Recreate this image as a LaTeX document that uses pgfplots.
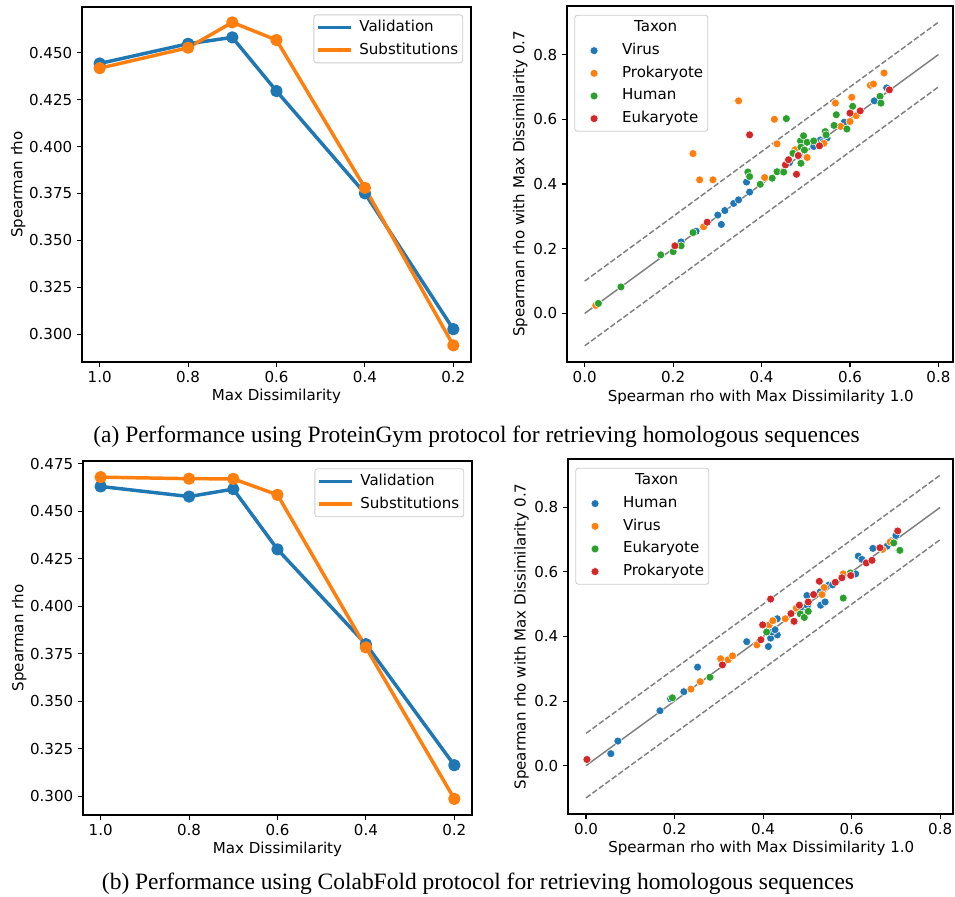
\documentclass[border=0pt]{standalone}
\usepackage{fontspec}
\setmainfont{DejaVu Sans}
\newfontfamily\capfont{Liberation Serif}
\usepackage{pgfplots}
\pgfplotsset{compat=1.18}

\definecolor{tabblue}{HTML}{1F77B4}
\definecolor{taborange}{HTML}{FF7F0E}
\definecolor{tabgreen}{HTML}{2CA02C}
\definecolor{tabred}{HTML}{D62728}
\definecolor{legframe}{HTML}{CCCCCC}

\pgfplotsset{
  base/.style={
    scale only axis,
    font=\fontsize{11.3}{13.5}\selectfont,
    tick label style={font=\fontsize{11.3}{13.5}\selectfont},
    label style={font=\fontsize{11.3}{13.5}\selectfont},
    /pgf/number format/assume math mode=true,
    axis line style={line width=0.8pt},
    tick style={line width=0.8pt, black},
    major tick length=3.8pt,
    tick align=outside,
    tick pos=left,
    legend cell align=left,
    legend style={font=\fontsize{11.3}{13.5}\selectfont, draw=legframe, rounded corners=2pt,
      line width=0.6pt, inner sep=1.5pt, row sep=1pt,
      nodes={inner sep=2pt, text height=9pt, text depth=3pt}},
  },
  lineplot/.style={
    base,
    x dir=reverse,
    xmin=0.16, xmax=1.04,
    xtick={1.0,0.8,0.6,0.4,0.2},
    xticklabel style={/pgf/number format/.cd, fixed, fixed zerofill, precision=1},
    yticklabel style={/pgf/number format/.cd, fixed, fixed zerofill, precision=3},
    ytick distance=0.025,
    xlabel={Max Dissimilarity},
    ylabel={Spearman rho},
    every axis x label/.style={at={(axis description cs:0.5,-0.098)}, anchor=center},
    every axis y label/.style={at={(axis description cs:-0.164,0.5)}, rotate=90, anchor=center},
    legend style={at={(0.98,0.979)}, anchor=north east},
    legend image code/.code={\draw[#1] (0pt,0pt) -- (25pt,0pt); \path (28pt,0pt);},
  },
  scatplot/.style={
    base,
    ymin=-0.15, ymax=0.95,
    xtick={0,0.2,0.4,0.6,0.8},
    ytick={0,0.2,0.4,0.6,0.8},
    xticklabel style={/pgf/number format/.cd, fixed, fixed zerofill, precision=1},
    yticklabel style={/pgf/number format/.cd, fixed, fixed zerofill, precision=1},
    xlabel={Spearman rho with Max Dissimilarity 1.0},
    ylabel={Spearman rho with Max Dissimilarity 0.7},
    every axis x label/.style={at={(axis description cs:0.502,-0.098)}, anchor=center},
    every axis y label/.style={at={(axis description cs:-0.121,0.5)}, rotate=90, anchor=center},
    legend style={at={(0.019,0.975)}, anchor=north west},
    legend image code/.code={\path[draw=none] (0pt,0pt) (32pt,0pt);
      \draw[#1, draw=none] plot coordinates {(13pt,0pt)};},
  },
  val/.style={tabblue, line width=2.6pt, line join=round, mark=*, mark size=3.3pt, mark options={solid, fill=tabblue}},
  sub/.style={taborange, line width=2.6pt, line join=round, mark=*, mark size=3.3pt, mark options={solid, fill=taborange}},
  pts/.style={only marks, mark=*, mark size=3pt, mark options={draw=white, line width=0.4pt, fill=#1}},
  diag/.style={gray, line width=1.1pt, forget plot},
  band/.style={gray, line width=1.1pt, dash pattern=on 4.2pt off 1.8pt, forget plot},
}

\begin{document}
\begin{tikzpicture}
\useasboundingbox (0pt,0pt) rectangle (716.25pt,-672pt);

% (a) ProteinGym protocol
\begin{axis}[lineplot, at={(61.5pt,-271.5pt)}, anchor=south west,
  width=291.75pt, height=266.25pt, ymin=0.2852, ymax=0.4744]
\addplot[val] coordinates {(1.0,0.4443) (0.8,0.4548) (0.7,0.4582) (0.6,0.4296) (0.4,0.3751) (0.2,0.3027)};
\addplot[sub] coordinates {(1.0,0.4418) (0.8,0.4527) (0.7,0.4662) (0.6,0.4568) (0.4,0.3780) (0.2,0.2941)};
\legend{Validation, Substitutions}
\end{axis}

\begin{axis}[scatplot, at={(425.25pt,-271.5pt)}, anchor=south west,
  width=289.5pt, height=267pt, xmin=-0.04, xmax=0.833]
\addplot[diag] coordinates {(0,0) (0.8,0.8)};
\addplot[band] coordinates {(0,0.1) (0.8,0.9)};
\addplot[band] coordinates {(0,-0.1) (0.8,0.7)};
\addlegendimage{empty legend}
% Virus
\addplot[pts=tabblue] coordinates {
(0.218,0.221) (0.252,0.254) (0.309,0.275) (0.301,0.304) (0.317,0.318) (0.337,0.340)
(0.348,0.351) (0.366,0.406) (0.373,0.375) (0.463,0.466) (0.484,0.485) (0.518,0.516)
(0.533,0.536) (0.539,0.531) (0.548,0.542) (0.587,0.591) (0.655,0.657) (0.683,0.697)};
% Prokaryote
\addplot[pts=taborange] coordinates {
(0.025,0.025) (0.269,0.268) (0.245,0.494) (0.260,0.413) (0.290,0.413) (0.348,0.657)
(0.407,0.420) (0.429,0.600) (0.435,0.524) (0.476,0.506) (0.503,0.482) (0.541,0.526)
(0.567,0.650) (0.579,0.578) (0.600,0.593) (0.604,0.668) (0.614,0.611) (0.646,0.705)
(0.653,0.709) (0.677,0.743)};
% Human
\addplot[pts=tabgreen] coordinates {
(0.031,0.031) (0.082,0.082) (0.172,0.181) (0.200,0.191) (0.218,0.209) (0.245,0.250)
(0.369,0.437) (0.373,0.423) (0.397,0.399) (0.424,0.418) (0.435,0.438) (0.450,0.437)
(0.456,0.602) (0.471,0.495) (0.489,0.464) (0.488,0.533) (0.495,0.549) (0.489,0.514)
(0.503,0.529) (0.518,0.533) (0.544,0.562) (0.546,0.552) (0.564,0.581) (0.569,0.614)
(0.593,0.570) (0.606,0.640) (0.668,0.671) (0.670,0.650) (0.483,0.490) (0.497,0.505)};
% Eukaryote
\addplot[pts=tabred] coordinates {
(0.204,0.209) (0.277,0.282) (0.373,0.552) (0.454,0.459) (0.461,0.475) (0.479,0.430)
(0.483,0.488) (0.531,0.518) (0.600,0.619) (0.623,0.626) (0.689,0.691)};
\legend{\hspace*{9pt}Taxon, Virus, Prokaryote, Human, Eukaryote}
\end{axis}

\node[font=\capfont\fontsize{17.6}{20}\selectfont, anchor=center] at (357.4pt,-327.75pt)
  {(a) Performance using ProteinGym protocol for retrieving homologous sequences};

% (b) ColabFold protocol
\begin{axis}[lineplot, at={(62.25pt,-611.25pt)}, anchor=south west,
  width=291.75pt, height=265.5pt, ymin=0.2902, ymax=0.4765]
\addplot[val] coordinates {(1.0,0.4631) (0.8,0.4578) (0.7,0.4617) (0.6,0.4300) (0.4,0.3801) (0.2,0.3164)};
\addplot[sub] coordinates {(1.0,0.4680) (0.8,0.4672) (0.7,0.4671) (0.6,0.4587) (0.4,0.3784) (0.2,0.2987)};
\legend{Validation, Substitutions}
\end{axis}

\begin{axis}[scatplot, at={(426pt,-610.5pt)}, anchor=south west,
  width=288.75pt, height=266.25pt, xmin=-0.0407, xmax=0.829]
\addplot[diag] coordinates {(0,0) (0.8,0.8)};
\addplot[band] coordinates {(0,0.1) (0.8,0.9)};
\addplot[band] coordinates {(0,-0.1) (0.8,0.7)};
\addlegendimage{empty legend}
% Human
\addplot[pts=tabblue] coordinates {
(0.056,0.037) (0.072,0.076) (0.167,0.170) (0.191,0.207) (0.221,0.229) (0.252,0.305)
(0.363,0.384) (0.412,0.369) (0.417,0.395) (0.432,0.405) (0.420,0.414) (0.427,0.421)
(0.432,0.455) (0.480,0.483) (0.499,0.483) (0.485,0.490) (0.499,0.527) (0.530,0.497)
(0.540,0.507) (0.529,0.538) (0.548,0.559) (0.557,0.560) (0.609,0.594) (0.615,0.649)
(0.623,0.639) (0.648,0.673) (0.680,0.680) (0.689,0.696) (0.700,0.713) (0.500,0.495)};
% Virus
\addplot[pts=taborange] coordinates {
(0.237,0.237) (0.258,0.260) (0.304,0.331) (0.321,0.328) (0.331,0.340) (0.386,0.374)
(0.414,0.436) (0.422,0.449) (0.450,0.455) (0.533,0.530) (0.538,0.552) (0.581,0.594)
(0.670,0.670) (0.687,0.693) (0.475,0.488)};
% Eukaryote
\addplot[pts=tabgreen] coordinates {
(0.195,0.210) (0.280,0.274) (0.408,0.414) (0.484,0.470) (0.493,0.459) (0.502,0.478)
(0.581,0.519) (0.597,0.597) (0.695,0.690) (0.709,0.667)};
% Prokaryote
\addplot[pts=tabred] coordinates {
(0.002,0.019) (0.308,0.312) (0.395,0.390) (0.399,0.436) (0.417,0.516) (0.463,0.471)
(0.470,0.447) (0.482,0.497) (0.502,0.507) (0.514,0.530) (0.527,0.571) (0.563,0.568)
(0.578,0.582) (0.598,0.589) (0.633,0.628) (0.646,0.636) (0.664,0.675) (0.704,0.727)};
\legend{\hspace*{9pt}Taxon, Human, Virus, Eukaryote, Prokaryote}
\end{axis}

\node[font=\capfont\fontsize{17.6}{20}\selectfont, anchor=center] at (358.5pt,-663pt)
  {(b) Performance using ColabFold protocol for retrieving homologous sequences};
\end{tikzpicture}
\end{document}
